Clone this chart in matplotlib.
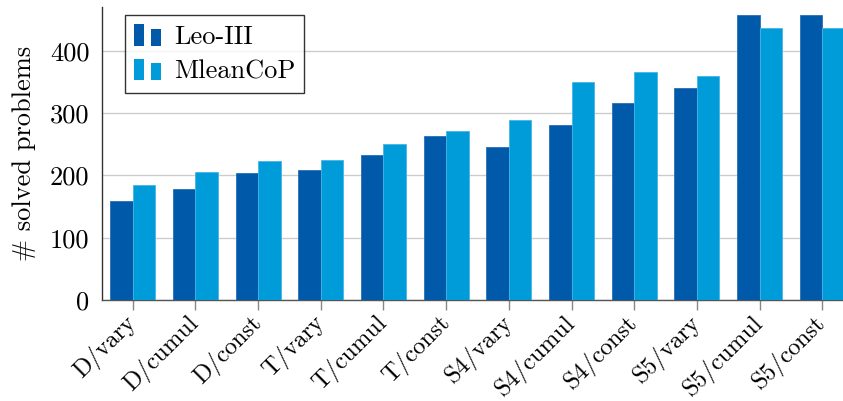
import matplotlib
matplotlib.use("Agg")
import matplotlib.pyplot as plt
import numpy as np
from matplotlib.patches import Rectangle
from matplotlib.legend_handler import HandlerBase

categories = ["D/vary", "D/cumul", "D/const", "T/vary", "T/cumul", "T/const",
              "S4/vary", "S4/cumul", "S4/const", "S5/vary", "S5/cumul", "S5/const"]
leo = [159, 178, 203, 209, 233, 263, 246, 280, 316, 340, 457, 457]
mlean = [185, 206, 223, 224, 251, 271, 289, 350, 366, 360, 436, 436]
series_names = ["Leo-III", "MleanCoP"]
yticks = [0, 100, 200, 300, 400]

c_dark = "#005AA9"
c_light = "#009CDA"

plt.rcParams['font.family'] = 'serif'
plt.rcParams['font.serif'] = ['cmr10', 'DejaVu Serif']
plt.rcParams['mathtext.fontset'] = 'cm'
plt.rcParams['axes.formatter.use_mathtext'] = True

FS = 19
FSX = 17.5

fig = plt.figure(figsize=(8.43, 4.01), dpi=100)
W, H = 843, 401
x0, x1 = 102, 853
y0, y1 = 300, 7
ax = fig.add_axes([x0 / W, 1 - y0 / H, (x1 - x0) / W, (y0 - y1) / H])

x = np.arange(len(categories))
bw = 0.36
ax.bar(x - bw / 2, leo, bw, color=c_dark, edgecolor="#2a6fb8", linewidth=0.6, zorder=3)
ax.bar(x + bw / 2, mlean, bw, color=c_light, edgecolor="#45b6e6", linewidth=0.6, zorder=3)

ax.set_xlim(-0.49, len(categories) - 1 + 0.49)
ax.set_ylim(0, 470)
ax.set_yticks(yticks)
ax.set_yticklabels([str(v) for v in yticks])
ax.yaxis.grid(True, color="#cccccc", linewidth=1.0, zorder=0)
ax.set_axisbelow(True)

ax.set_xticks(x)
ax.set_xticklabels(categories, rotation=45, ha="right", va="center", rotation_mode="anchor")
ax.tick_params(axis="x", direction="out", length=7, color="#888888", width=1.0, labelsize=FSX, pad=7)
ax.tick_params(axis="y", direction="in", length=0, labelsize=FS, pad=9)

for s in ["top", "right"]:
    ax.spines[s].set_visible(False)
ax.spines["left"].set_color("#333333")
ax.spines["bottom"].set_color("#555555")
ax.spines["left"].set_linewidth(1.0)
ax.spines["bottom"].set_linewidth(1.0)

ax.set_ylabel("# solved problems", fontsize=FS, labelpad=10)


class BarPairHandler(HandlerBase):
    def __init__(self, color):
        super().__init__()
        self.color = color

    def create_artists(self, legend, orig_handle, xdescent, ydescent, width, height, fontsize, trans):
        w = width * 0.38
        gap = width - 2 * w
        r1 = Rectangle((-xdescent, -ydescent), w, height,
                       facecolor=self.color, edgecolor="none", transform=trans)
        r2 = Rectangle((-xdescent + w + gap, -ydescent), w, height * 0.78,
                       facecolor=self.color, edgecolor="none", transform=trans)
        return [r1, r2]


h1 = Rectangle((0, 0), 1, 1, color=c_dark)
h2 = Rectangle((0, 0), 1, 1, color=c_light)
leg = ax.legend([h1, h2], series_names,
                handler_map={h1: BarPairHandler(c_dark), h2: BarPairHandler(c_light)},
                loc="upper left", bbox_to_anchor=((125 - x0) / (x1 - x0), (y0 - 15) / (y0 - y1)),
                fontsize=FS, frameon=True, fancybox=False, edgecolor="black",
                handlelength=1.0, handleheight=0.9, handletextpad=0.5, borderpad=0.35,
                labelspacing=0.35, borderaxespad=0)
leg.get_frame().set_linewidth(1.0)

fig.savefig("out.png", dpi=100)
